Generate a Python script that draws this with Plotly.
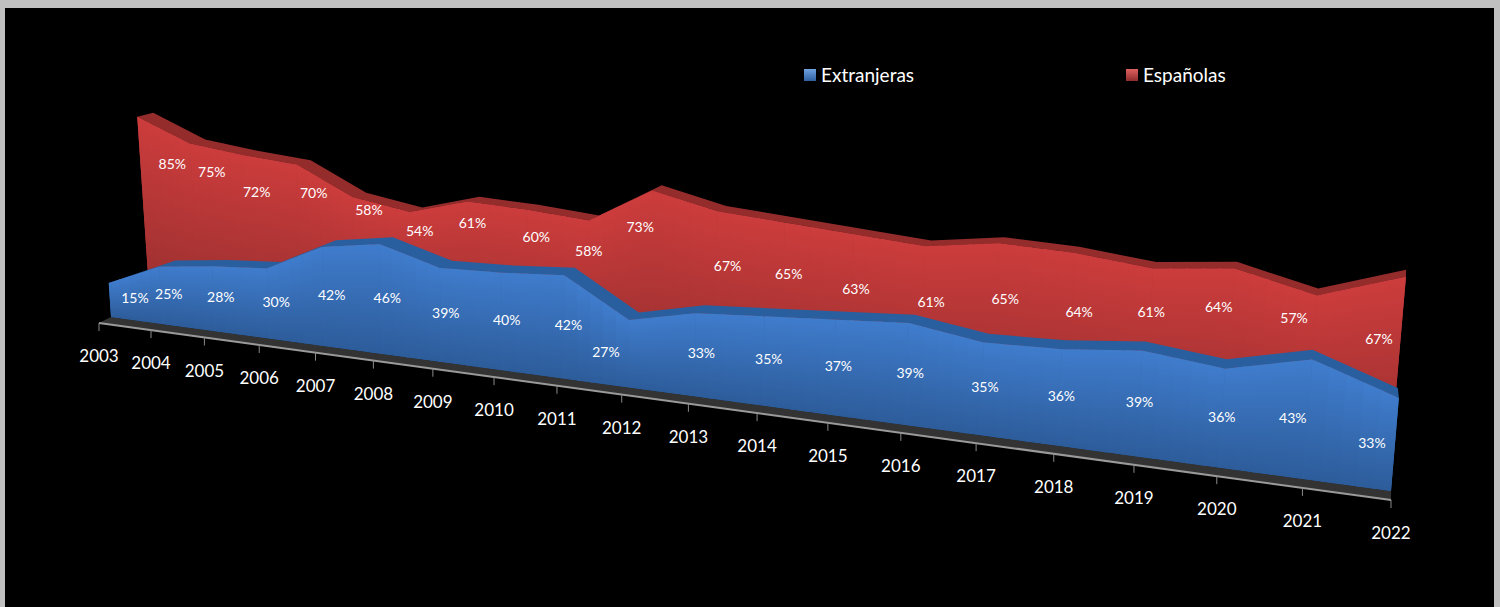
import plotly.graph_objects as go

# ---- data ----
YEARS = [2003, 2004, 2005, 2006, 2007, 2008, 2009, 2010, 2011, 2012,
         2013, 2014, 2015, 2016, 2017, 2018, 2019, 2020, 2021, 2022]
EXTRANJERAS = [15, 25, 28, 30, 42, 46, 39, 40, 42, 27, 33, 35, 37, 39, 35, 36, 39, 36, 43, 33]
ESPANOLAS = [85, 75, 72, 70, 58, 54, 61, 60, 58, 73, 67, 65, 63, 61, 65, 64, 61, 64, 57, 67]

# ---- label nudges (px) relative to the projected anchor ----
EX_LABEL_DX = [25, 8, 7, 8, 8, 6, 5, 5, 4, -23, 6, 5, 4, 3, 3, 2, 0, 0, -15, -23]
EX_LABEL_DY = [0] * 20
ES_LABEL_DX = [35, 22, 14, 17, 16, 10, 5, 9, 0, -12, 10, 4, 2, 6, 6, 4, -2, -16, -23, -27]
ES_LABEL_DY = [49, 30, 38, 30, 14, 20, 23, 29, 32, 38, 56, 53, 56, 57, 57, 60, 45, 40, 24, 64]

# ---- perspective of the 3-D box ----
FONT = "Lato, sans-serif"
C = -0.245
N = len(YEARS)
SLICES = 5


def persp(a, b, u):
    return (a + b * u) / (1 + C * u)


def lean(v, u):
    return v / 100 * persp(-15, 33, u)


AXIS = dict(ox=(0, 0), y0=(323, 54.5))
BLUE = dict(ox=(12, -12), y0=(317, 53.7), h=(227, -14), back=((17, -17.75), (-6, -1.55)))
RED = dict(ox=(51, -51.75), y0=(304, 43.3), h=(220.2, -13.6), back=((16, -16), (-4, -1.3)))


def tick_pos(i):
    u = i / (N - 1)
    return persp(99, 951.2, u), persp(*AXIS["y0"], u)


def base_pos(i, s):
    u = i / (N - 1)
    return persp(99, 951.2, u) + persp(*s["ox"], u), persp(*s["y0"], u)


def top_pos(i, v, s, back=False, frac=1.0):
    u = i / (N - 1)
    x, y = base_pos(i, s)
    x += lean(v, u) * frac
    y -= v / 100 * persp(*s["h"], u) * frac
    if back:
        x += persp(*s["back"][0], u)
        y += persp(*s["back"][1], u)
    return x, y


fig = go.Figure()


def poly(xs, ys, color=None, grad=None):
    kw = dict(x=xs + xs[:1], y=ys + ys[:1], mode="lines", fill="toself",
              line=dict(width=0), hoverinfo="skip", showlegend=False)
    if grad:
        kw["fillgradient"] = dict(type="vertical", colorscale=[[0, grad[0]], [1, grad[1]]],
                                  start=grad[2], stop=grad[3])
        kw["fillcolor"] = grad[0]
    else:
        kw["fillcolor"] = color
    fig.add_trace(go.Scatter(**kw))


def mix(p, q, t):
    return p[0] + (q[0] - p[0]) * t, p[1] + (q[1] - p[1]) * t


def area(values, s, top_col, bot_col, mid_col, band_col):
    front = [top_pos(i, v, s) for i, v in enumerate(values)]
    back = [top_pos(i, v, s, back=True) for i, v in enumerate(values)]
    base = [base_pos(i, s) for i in range(N)]
    # top face
    poly([p[0] for p in front] + [p[0] for p in back[::-1]],
         [p[1] for p in front] + [p[1] for p in back[::-1]], color=band_col)
    # solid underlay, so no seam shows between gradient pieces
    poly([p[0] for p in front] + [p[0] for p in base[::-1]],
         [p[1] for p in front] + [p[1] for p in base[::-1]], color=mid_col)
    # front face: thin slices whose vertical gradient follows the outline
    for i in range(N - 1):
        for k in range(SLICES):
            t0 = k / SLICES
            t1 = min(1.0, (k + 1) / SLICES + 0.03)
            a, b = mix(front[i], front[i + 1], t0), mix(front[i], front[i + 1], t1)
            c, d = mix(base[i], base[i + 1], t1), mix(base[i], base[i + 1], t0)
            poly([a[0], b[0], c[0], d[0]], [a[1], b[1], c[1], d[1]],
                 grad=(top_col, bot_col, (a[1] + b[1]) / 2, (c[1] + d[1]) / 2))


# floor
ticks = [tick_pos(i) for i in range(N)]
blue_base = [base_pos(i, BLUE) for i in range(N)]
poly([p[0] for p in ticks] + [p[0] for p in blue_base[::-1]],
     [p[1] for p in ticks] + [p[1] for p in blue_base[::-1]], color="#333333")

# series
area(ESPANOLAS, RED, "#CC3C3C", "#982F2F", "#B43636", "#952C2C")
area(EXTRANJERAS, BLUE, "#3F7CCC", "#2D5C9A", "#3569B0", "#2A5F9F")

# axis line and ticks
fig.add_trace(go.Scatter(x=[ticks[0][0], ticks[-1][0]], y=[ticks[0][1], ticks[-1][1]], mode="lines",
                         line=dict(color="#9A9A9A", width=2), hoverinfo="skip", showlegend=False))
tx, ty = [], []
for p in ticks:
    tx += [p[0], p[0], None]
    ty += [p[1], p[1] + 8, None]
fig.add_trace(go.Scatter(x=tx, y=ty, mode="lines", line=dict(color="#8A8A8A", width=1),
                         hoverinfo="skip", showlegend=False))

# axis labels
fig.add_trace(go.Scatter(x=[p[0] for p in ticks], y=[p[1] + 35 for p in ticks], mode="text",
                         text=[str(y) for y in YEARS], textposition="middle center",
                         textfont=dict(family=FONT, size=17, color="white"),
                         hoverinfo="skip", showlegend=False))

# data labels
lx, ly, lt = [], [], []
for i, v in enumerate(EXTRANJERAS):
    x, y = top_pos(i, v, BLUE, frac=0.5)
    lx.append(x + EX_LABEL_DX[i]); ly.append(y + EX_LABEL_DY[i]); lt.append(f"{v}%")
for i, v in enumerate(ESPANOLAS):
    x, y = top_pos(i, v, RED)
    lx.append(x + ES_LABEL_DX[i]); ly.append(y + ES_LABEL_DY[i]); lt.append(f"{v}%")
fig.add_trace(go.Scatter(x=lx, y=ly, mode="text", text=lt, textposition="middle center",
                         textfont=dict(family=FONT, size=14, color="white"),
                         hoverinfo="skip", showlegend=False))

# legend
for name, px, c1, c2 in [("Extranjeras", 810, "#6FA3E0", "#2F5F9F"), ("Españolas", 1132, "#E06060", "#8E2C2C")]:
    fig.add_trace(go.Scatter(x=[px], y=[75], mode="markers",
                             marker=dict(symbol="square", size=12, color=c1, line=dict(width=0),
                                         gradient=dict(type="vertical", color=c2)),
                             hoverinfo="skip", showlegend=False))
    fig.add_trace(go.Scatter(x=[px + 11], y=[77], mode="text", text=[name], textposition="middle right",
                             textfont=dict(family=FONT, size=19, color="white"),
                             hoverinfo="skip", showlegend=False))

fig.update_layout(
    width=1500, height=607, autosize=False,
    margin=dict(l=5, r=6, t=8, b=0),
    paper_bgcolor="#C0C0C0", plot_bgcolor="#000000",
    xaxis=dict(range=[5, 1494], visible=False, fixedrange=True),
    yaxis=dict(range=[607, 8], visible=False, fixedrange=True),
)
fig.write_html("out.html", config=dict(displayModeBar=False),
               post_script="document.body.style.margin='0';document.body.style.overflow='hidden';")
